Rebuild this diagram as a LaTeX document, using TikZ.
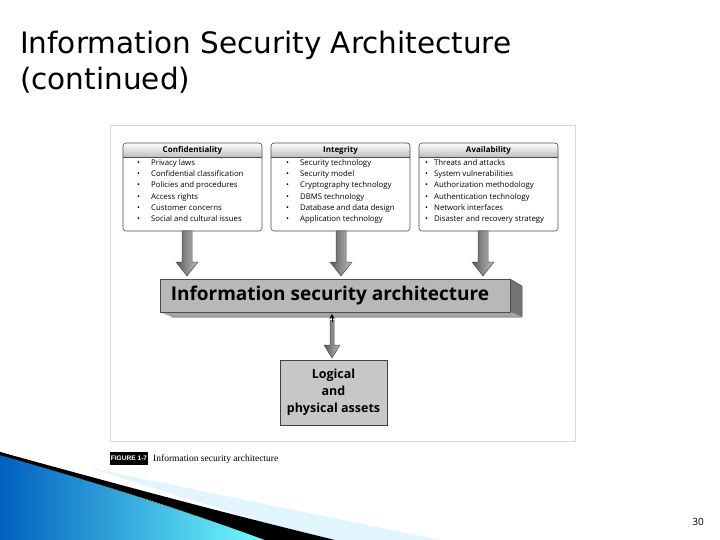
\documentclass[tikz,border=0pt]{standalone}
\usepackage{fontspec}
\setmainfont{Open Sans}
\newfontfamily\titlefont{DejaVu Sans}
\newfontfamily\capfont{Liberation Serif}
\newfontfamily\figfont{Liberation Sans}
\usetikzlibrary{arrows.meta}
\begin{document}
\begin{tikzpicture}[x=1pt,y=-1pt,
  box/.style={draw=black!70,line width=0.6pt,rounded corners=3pt},
  hdr/.style={font=\fontsize{8}{9}\selectfont\bfseries},
  lst/.style={font=\fontsize{7.8}{11.3}\selectfont,align=left,anchor=north west,inner sep=0pt},
  fat/.style={draw=black!70,line width=0.5pt,left color=black!65,right color=black!25,shading angle=90}]
\useasboundingbox (0,0) rectangle (720,540);
\fill[white] (0,0) rectangle (720,540);
% swoosh
\fill[cyan!12!white] (90,468) -- (440,540) -- (320,540) -- cycle;
\fill[left color=cyan!50!blue!75!black, right color=cyan!55!white] (0,452) -- (270,540) -- (0,540) -- cycle;
\fill[black] (0,452) .. controls (120,485) and (220,512) .. (335,540) -- (265,540) .. controls (170,505) and (80,478) .. (0,455) -- cycle;
% title
\node[anchor=west,font=\titlefont\fontsize{29.5}{31}\selectfont,inner sep=0pt] (t1) at (20,45) {Information Security Architecture};
\node[anchor=west,font=\titlefont\fontsize{29.5}{31}\selectfont,inner sep=0pt] (t2) at (20,80) {(continued)};
\node[anchor=east,font=\fontsize{10}{12}\selectfont,inner sep=0pt] (pg) at (704,522) {30};
% frame
\draw[black!15,line width=1pt] (110,126) rectangle (575,441);
% boxes
\foreach \n/\x/\t in {c/123/Confidentiality,i/271/Integrity,a/419/Availability}{
  \fill[white] (\x,143) rectangle ++(139,88);
  \begin{scope}
  \clip[rounded corners=3pt] (\x,143) rectangle ++(139,88);
  \fill[top color=white,bottom color=black!25] (\x,143) rectangle ++(139,14);
  \end{scope}
  \draw[box] (\x,143) rectangle ++(139,88);
  \draw[black!70,line width=0.6pt] (\x,157) -- ++(139,0);
  \node[hdr] (\n h) at (\x+69.5,150.5) {\t};
}
\node[lst] (cl) at (137,159) {•\hspace{11pt}Privacy laws\\•\hspace{11pt}Confidential classification\\•\hspace{11pt}Policies and procedures\\•\hspace{11pt}Access rights\\•\hspace{11pt}Customer concerns\\•\hspace{11pt}Social and cultural issues};
\node[lst] (il) at (286,159) {•\hspace{11pt}Security technology\\•\hspace{11pt}Security model\\•\hspace{11pt}Cryptography technology\\•\hspace{11pt}DBMS technology\\•\hspace{11pt}Database and data design\\•\hspace{11pt}Application technology};
\node[lst] (al) at (425,159) {•\hspace{6pt}Threats and attacks\\•\hspace{6pt}System vulnerabilities\\•\hspace{6pt}Authorization methodology\\•\hspace{6pt}Authentication technology\\•\hspace{6pt}Network interfaces\\•\hspace{6pt}Disaster and recovery strategy};
% big arrows
\foreach \x in {187,341,483}{
  \draw[fat] (\x-5,231) -- (\x+5,231) -- (\x+5,262) -- (\x+11,262) -- (\x,276) -- (\x-11,262) -- (\x-5,262) -- cycle;
}
% main bar
\fill[black!55] (510,279) -- (522,286) -- (522,317) -- (510,312) -- cycle;
\fill[black!35] (160,312) -- (510,312) -- (522,317) -- (172,317) -- cycle;
\draw[black!70,line width=0.5pt] (510,279) -- (522,286) -- (522,317) -- (172,317);
\fill[black!28] (160,279) rectangle (510,312);
\draw[black!70,line width=0.6pt] (160,279) rectangle (510,312);
\node[font=\fontsize{19}{21}\selectfont\bfseries] (isa) at (330,295.5) {Information security architecture};
% double arrow
\draw[fat] (330,320) -- (334,320) -- (334,345) -- (340,345) -- (332,358) -- (324,345) -- (330,345) -- cycle;
\draw[black,-{Stealth[length=5pt,width=5pt]}] (332,322) -- (332,314);
% assets
\fill[black!22] (280,360) rectangle (387,425);
\draw[black!75,line width=0.7pt] (280,360) rectangle (387,425);
\node[font=\fontsize{12.5}{17}\selectfont\bfseries,align=center] (as) at (333.5,392.5) {Logical\\and\\physical assets};
% caption
\fill[black] (110,452) rectangle (148,465);
\node[font=\figfont\bfseries\fontsize{6.6}{8}\selectfont,text=white,inner sep=0pt] (fig) at (129,458.5) {FIGURE 1-7};
\node[anchor=west,font=\capfont\fontsize{9.5}{11}\selectfont,inner sep=0pt] (cap) at (153,459) {Information security architecture};
\end{tikzpicture}
\end{document}
